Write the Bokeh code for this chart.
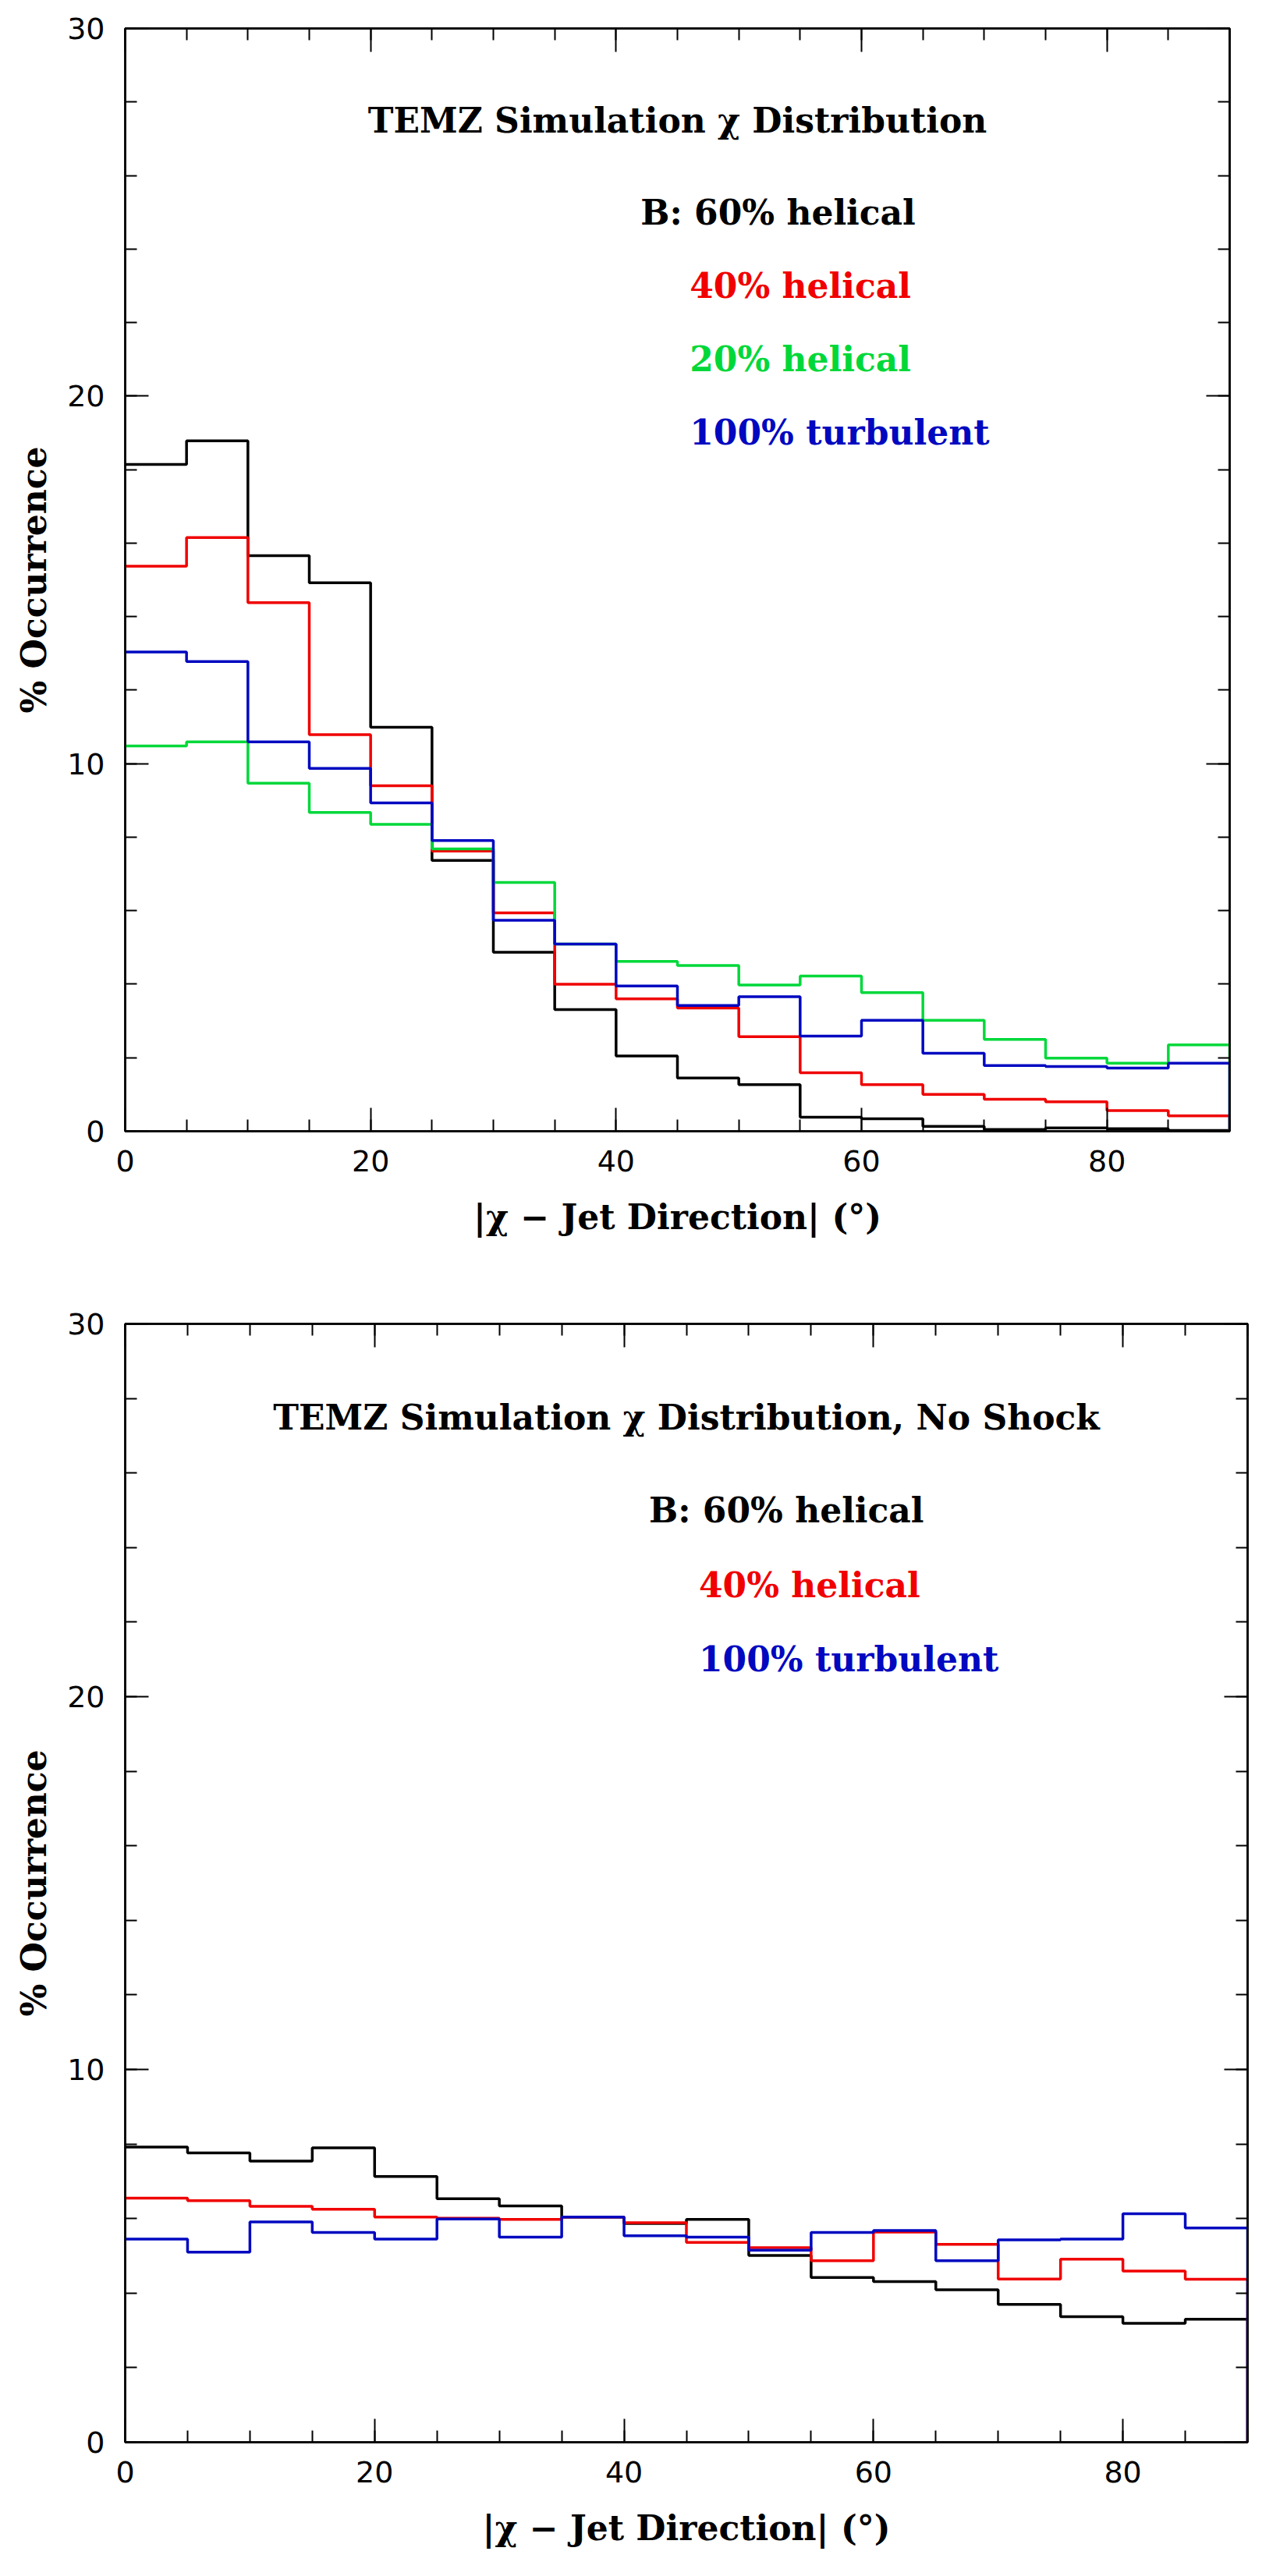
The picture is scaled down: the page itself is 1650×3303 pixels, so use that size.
import numpy as np
from bokeh.plotting import figure
from bokeh.layouts import column
from bokeh.models import Range1d, LinearAxis, SingleIntervalTicker, CustomJSTickFormatter
from bokeh.core.properties import value
from bokeh.embed import file_html
from bokeh.resources import INLINE

# bin edges of |chi - jet direction| in degrees
bin_edges = [0, 5, 10, 15, 20, 25, 30, 35, 40, 45, 50, 55, 60, 65, 70, 75, 80, 85, 90]

# top panel: with shock
shock_60_helical = [18.14, 18.78, 15.66, 14.92, 10.99, 7.37, 4.87, 3.31, 2.05, 1.45,
                    1.27, 0.38, 0.34, 0.13, 0.05, 0.09, 0.07, 0.02]
shock_40_helical = [15.37, 16.15, 14.38, 10.79, 9.40, 7.62, 5.94, 4.00, 3.60, 3.35,
                    2.57, 1.59, 1.27, 1.00, 0.87, 0.80, 0.56, 0.42]
shock_20_helical = [10.48, 10.59, 9.47, 8.67, 8.35, 7.68, 6.77, 5.09, 4.62, 4.51,
                    3.98, 4.22, 3.77, 3.02, 2.50, 1.99, 1.85, 2.35]
shock_turbulent = [13.04, 12.78, 10.59, 9.87, 8.93, 7.91, 5.74, 5.09, 3.95, 3.42,
                   3.66, 2.59, 3.02, 2.12, 1.79, 1.76, 1.72, 1.85]

# bottom panel: no shock
noshock_60_helical = [7.92, 7.76, 7.54, 7.90, 7.13, 6.53, 6.34, 6.04, 5.87, 5.98,
                      5.01, 4.42, 4.31, 4.09, 3.70, 3.37, 3.19, 3.30]
noshock_40_helical = [6.55, 6.48, 6.33, 6.25, 6.04, 6.01, 5.98, 6.04, 5.89, 5.36,
                      5.22, 4.87, 5.64, 5.31, 4.38, 4.91, 4.59, 4.37]
noshock_turbulent = [5.45, 5.10, 5.91, 5.63, 5.45, 5.99, 5.50, 6.04, 5.54, 5.50,
                     5.15, 5.63, 5.68, 4.87, 5.43, 5.45, 6.13, 5.75]

top_title = "TEMZ Simulation \u03c7 Distribution"
bottom_title = "TEMZ Simulation \u03c7 Distribution, No Shock"
top_labels = ["B: 60% helical", "40% helical", "20% helical", "100% turbulent"]
bottom_labels = ["B: 60% helical", "40% helical", "100% turbulent"]

BLACK = "#000000"
RED = "#f00000"
GREEN = "#00d83a"
BLUE = "#0008c0"

SERIF = value("DejaVu Serif")


def step_xy(edges, vals):
    xs = list(np.repeat(edges, 2)[1:-1]) + [edges[-1]]
    ys = list(np.repeat(vals, 2)) + [0.0]
    return xs, ys


def make_panel(title, series, labels, colors, fw, fh, left, right, top, bottom):
    p = figure(frame_width=fw, frame_height=fh,
               x_range=Range1d(0, 90), y_range=Range1d(0, 30),
               output_backend="svg", toolbar_location=None,
               min_border_left=left, min_border_right=right,
               min_border_top=top, min_border_bottom=bottom,
               background_fill_color="white", border_fill_color="white")
    p.xgrid.visible = False
    p.ygrid.visible = False
    p.outline_line_color = "black"
    p.outline_line_width = 2.5

    xa = p.xaxis[0]
    ya = p.yaxis[0]
    xa.ticker = SingleIntervalTicker(interval=20, num_minor_ticks=4)
    ya.ticker = SingleIntervalTicker(interval=10, num_minor_ticks=5)
    xa.axis_label = "|\u03c7 \u2212 Jet Direction| (\u00b0)"
    ya.axis_label = "% Occurrence"

    # mirrored tick marks on top and right
    top_ax = LinearAxis(ticker=SingleIntervalTicker(interval=20, num_minor_ticks=4),
                        formatter=CustomJSTickFormatter(code="return ''"))
    right_ax = LinearAxis(ticker=SingleIntervalTicker(interval=10, num_minor_ticks=5),
                          formatter=CustomJSTickFormatter(code="return ''"))
    p.add_layout(top_ax, "above")
    p.add_layout(right_ax, "right")

    for ax in [xa, ya, top_ax, right_ax]:
        ax.axis_line_width = 2.5
        ax.major_tick_in = 30
        ax.major_tick_out = 0
        ax.minor_tick_in = 15
        ax.minor_tick_out = 0
        ax.major_tick_line_width = 2
        ax.minor_tick_line_width = 2
        ax.major_label_text_font = "DejaVu Sans"
        ax.major_label_text_font_size = "38px"
        ax.major_label_text_color = "black"
        ax.axis_label_text_font = "DejaVu Serif"
        ax.axis_label_text_font_style = "bold"
        ax.axis_label_text_font_size = "44px"
        ax.axis_label_text_color = "black"
    top_ax.major_label_text_font_size = "0px"
    right_ax.major_label_text_font_size = "0px"
    xa.major_label_standoff = 24
    ya.major_label_standoff = 26
    xa.axis_label_standoff = 30
    ya.axis_label_standoff = 14

    for vals, color in zip(series, colors):
        xs, ys = step_xy(bin_edges, vals)
        p.line(xs, ys, line_color=color, line_width=3.5)

    p.text(x=[45], y=[27.5], text=[title], text_align="center", text_baseline="middle",
           text_font=SERIF, text_font_style="bold", text_font_size="44px", text_color="black")

    label_x = [42] + [46] * (len(labels) - 1)
    label_y = [25 - 2 * i for i in range(len(labels))]
    p.text(x=label_x, y=label_y, text=labels, text_align="left", text_baseline="middle",
           text_font=SERIF, text_font_style="bold", text_font_size="44px",
           text_color=colors)
    return p


p1 = make_panel(top_title,
                [shock_60_helical, shock_40_helical, shock_20_helical, shock_turbulent],
                top_labels, [BLACK, RED, GREEN, BLUE],
                1416, 1414, 158, 60, 36, 140)
p2 = make_panel(bottom_title,
                [noshock_60_helical, noshock_40_helical, noshock_turbulent],
                bottom_labels, [BLACK, RED, BLUE],
                1439, 1434, 160, 35, 107, 150)

p = column(p1, p2)
open("out.html", "w").write(file_html(p, INLINE))
